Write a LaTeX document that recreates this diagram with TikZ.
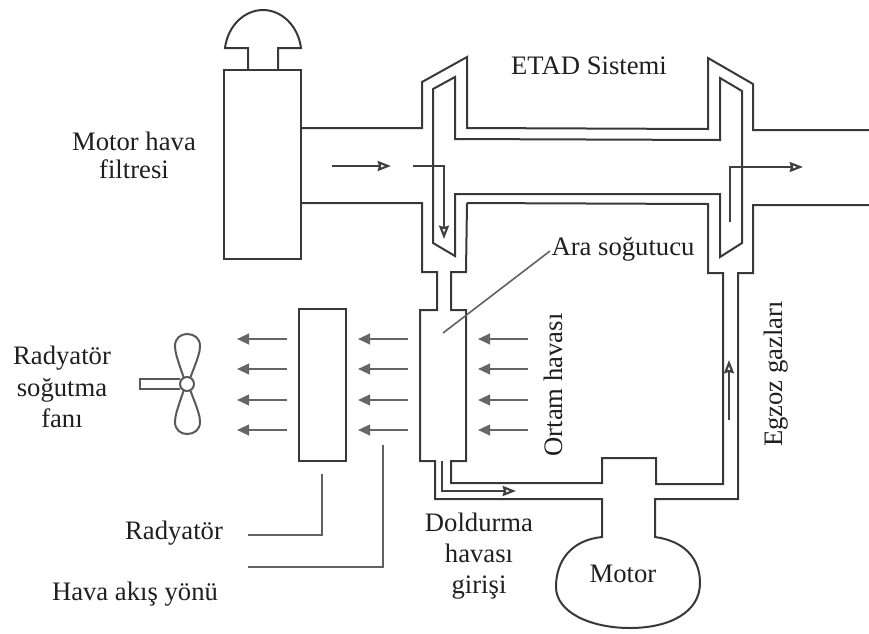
\documentclass[tikz,border=0pt]{standalone}
\usepackage{fontspec}
\setmainfont{Liberation Serif}
\usetikzlibrary{arrows.meta}
\tikzset{
  pipe/.style={draw=black!78,line width=1.5pt,line join=miter},
  flow/.style={draw=black!75,line width=1.2pt,-{Stealth[open,length=10pt,width=7.5pt,inset=1pt,line width=1.6pt]}},
  air/.style={draw=black!60,line width=1.5pt,-{Stealth[fill=black!60,length=9pt,width=8pt,inset=0pt]}},
  leader/.style={draw=black!62,line width=1.2pt},
  lbl/.style={font=\fontsize{20}{22}\selectfont,text=black!88,inner sep=0pt,align=center},
}
\begin{document}
\begin{tikzpicture}[x=0.75pt,y=-0.75pt]
\useasboundingbox (0,0) rectangle (869,633);
% air filter
\draw[pipe] (224,70) rectangle (301,259);
\draw[pipe] (248,70) -- (248,48) -- (225,48) .. controls (228,25) and (245,10) .. (263,10) .. controls (281,10) and (298,25) .. (301,48) -- (278,48) -- (278,70);
% upper outer duct
\draw[pipe] (301,128) -- (422,128) -- (422,82) -- (467,57) -- (467,128) -- (708,129) -- (708,58) -- (753,84) -- (753,130) -- (869,130);
% lower outer duct with intercooler
\draw[pipe] (301,203) -- (422,203) -- (422,272) -- (437,272) -- (437,310) -- (420,310) -- (420,461) -- (435,461) -- (435,499) -- (602,499) -- (602,537)
  .. controls (572,540) and (556,560) .. (556,587)
  .. controls (556,612) and (590,628) .. (630,628)
  .. controls (670,628) and (700,612) .. (700,583)
  .. controls (700,558) and (684,541) .. (655,537)
  -- (655,499) -- (738,499) -- (738,273) -- (753,273) -- (753,205) -- (869,205);
\draw[pipe] (467,203) -- (708,204) -- (708,273) -- (723,273) -- (723,484) -- (656,484) -- (656,458) -- (602,458) -- (602,483) -- (451,483) -- (451,461) -- (466,461) -- (466,310) -- (451,310) -- (451,272) -- (466,272) -- (467,203);
% inner ducts
\draw[pipe] (433,89) -- (455,77) -- (455,139) -- (720,140) -- (720,78) -- (742,91) -- (742,243) -- (720,257) -- (720,194) -- (455,194) -- (455,256) -- (433,243) -- cycle;
% flow arrows
\coordinate (fa) at (332,166); \coordinate (fb) at (391,166);
\draw[flow] (fa) -- (fb);
\coordinate (ga) at (413,166); \coordinate (gb) at (444,166); \coordinate (gc) at (444,239);
\draw[flow] (ga) -- (gb) -- (gc);
\coordinate (ha) at (730,222); \coordinate (hb) at (730,167); \coordinate (hc) at (803,167);
\draw[flow] (ha) -- (hb) -- (hc);
\coordinate (ia) at (729,420); \coordinate (ib) at (729,360);
\draw[flow] (ia) -- (ib);
\coordinate (ja) at (442,461); \coordinate (jb) at (442,491); \coordinate (jc) at (516,491);
\draw[flow] (ja) -- (jb) -- (jc);
% radiator
\draw[pipe] (299,309) rectangle (346,461);
% air arrows
\foreach \y in {339,369,400,430}{
  \draw[air] (287,\y) -- (237,\y);
  \draw[air] (408,\y) -- (358,\y);
  \draw[air] (528,\y) -- (478,\y);
}
% fan
\draw[pipe,draw=black!65] (180,379) -- (140,379) -- (140,389) -- (180,389);
\draw[pipe,draw=black!65] (183.5,377) .. controls (177,358) and (175,352) .. (175,346) .. controls (175,338) and (181,334) .. (187,334) .. controls (194,334) and (200,338) .. (200,346) .. controls (200,352) and (198,358) .. (190.5,377);
\draw[pipe,draw=black!65] (183.5,391) .. controls (177,410) and (175,416) .. (175,422) .. controls (175,430) and (181,434) .. (187,434) .. controls (194,434) and (200,430) .. (200,422) .. controls (200,416) and (198,410) .. (190.5,391);
\draw[pipe,draw=black!65] (187,384) circle[radius=7];
% labels
\node[lbl] (etad) at (589,66) {ETAD Sistemi};
\node[lbl] (filt) at (134,155) {Motor hava\\[-1pt]filtresi};
\node[lbl] (ara) at (623,249) {Ara soğutucu};
\node[lbl] (fan) at (62,387) {Radyatör\\[1.6pt]soğutma\\[1.6pt]fanı};
\node[lbl] (rad) at (174,533) {Radyatör};
\node[lbl] (hava) at (135,594) {Hava akış yönü};
\node[lbl] (dold) at (479,556) {Doldurma\\[1.5pt]havası\\[1.5pt]girişi};
\node[lbl] (mot) at (623,574) {Motor};
\node[lbl,rotate=90] (ort) at (553,385) {Ortam havası};
\node[lbl,rotate=90] (egz) at (776,374) {Egzoz gazları};
% leaders
\coordinate (aw) at (550,251);
\draw[leader] (aw) -- (443,333);
\coordinate (r1) at (322,474); \coordinate (r2) at (322,535); \coordinate (r3) at (248,535);
\draw[leader] (r1) -- (r2) -- (r3);
\coordinate (h1) at (383,445); \coordinate (h2) at (383,567); \coordinate (h3) at (248,567);
\draw[leader] (h1) -- (h2) -- (h3);
\end{tikzpicture}
\end{document}
